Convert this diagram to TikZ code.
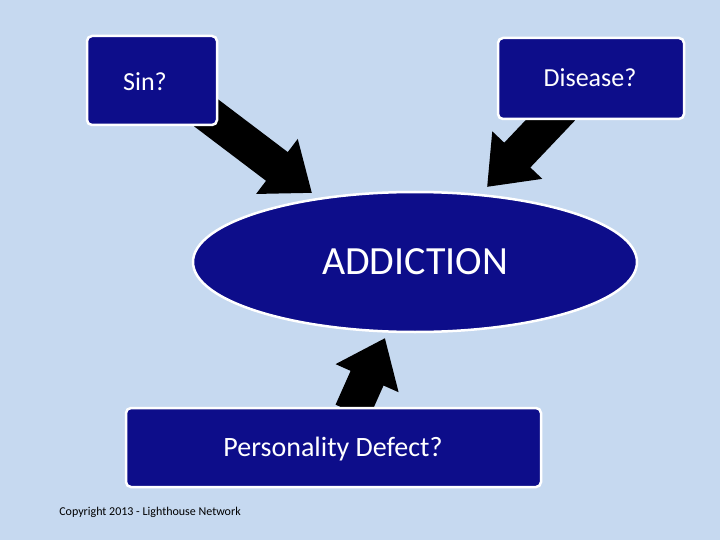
\documentclass[tikz,border=0pt]{standalone}
\usepackage{fontspec}
\setmainfont{Carlito}
\usetikzlibrary{arrows.meta,shapes.geometric}
\definecolor{bg}{HTML}{C6D9F0}
\definecolor{navy}{HTML}{0D0D8A}
\begin{document}
\begin{tikzpicture}[x=1pt,y=-1pt,
  box/.style={draw=white,line width=2.5pt,fill=navy,rounded corners=5pt,text=white},
  blk/.style={line width=36pt,-{Triangle[length=44pt,width=66pt]},black}]
\fill[bg] (0,0) rectangle (720,540);
\useasboundingbox (0,0) rectangle (720,540);
\coordinate (a1) at (205,112); \coordinate (a2) at (312,193);
\coordinate (b1) at (562,108); \coordinate (b2) at (487,187);
\coordinate (c1) at (352,412); \coordinate (c2) at (385,338);
\draw[blk] (a1) -- (a2);
\draw[blk] (b1) -- (b2);
\draw[blk] (c1) -- (c2);
\node[box,minimum width=130pt,minimum height=89pt] (sin) at (152,80.5) {};
\node[text=white,font=\fontsize{26pt}{30pt}\selectfont] (sint) at (145,82) {Sin?};
\node[box,minimum width=186pt,minimum height=81pt] (dis) at (591,78.5) {};
\node[text=white,font=\fontsize{26pt}{30pt}\selectfont] (dist) at (590,78) {Disease?};
\node[ellipse,draw=white,line width=2.5pt,fill=navy,minimum width=444pt,minimum height=140pt] (add) at (415,262) {};
\node[text=white,font=\fontsize{40pt}{46pt}\selectfont] (addt) at (415,262) {ADDICTION};
\node[box,minimum width=415pt,minimum height=79pt] (per) at (333.5,447.5) {};
\node[text=white,font=\fontsize{28pt}{32pt}\selectfont] (pert) at (333,449) {Personality Defect?};
\node[font=\fontsize{12pt}{14pt}\selectfont] (copy) at (150,512) {Copyright 2013 - Lighthouse Network};
\end{tikzpicture}
\end{document}
